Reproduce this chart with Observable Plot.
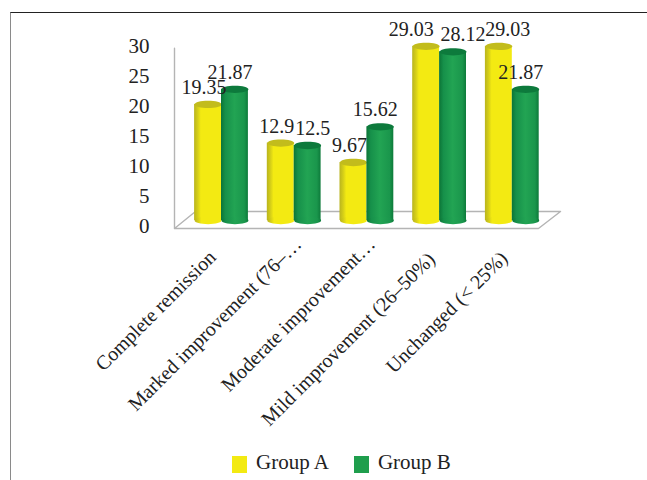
<!DOCTYPE html>
<html>
<head>
<meta charset="utf-8">
<script src="https://cdn.jsdelivr.net/npm/d3@7"></script>
<script src="https://cdn.jsdelivr.net/npm/@observablehq/plot@0.6"></script>
<style>
  html, body { margin: 0; padding: 0; background: #fff; overflow: hidden; }
  body { width: 647px; height: 480px; position: relative; font-family: "Liberation Serif", serif; color: #222; }
  #frame { position: absolute; left: 10px; top: 12px; right: 0; bottom: 0; border-top: 1.5px solid #222; border-left: 1.5px solid #8a8a8a; }
  #chart { position: absolute; left: 0; top: 0; }
  #chart svg { background: transparent; display: block; }
  #legend { position: absolute; top: 447px; left: 232px; display: flex; align-items: center; font-size: 21px; height: 30px; }
  #legend i { display: inline-block; width: 15px; height: 17px; margin-right: 9px; margin-top: 5px; }
  #legend span { margin-right: 25px; }
</style>
</head>
<body>
<div id="frame"></div>
<div id="chart"></div>
<div id="legend"></div>
<script>
const categories = [
  "Complete remission",
  "Marked improvement (76–…",
  "Moderate improvement…",
  "Mild improvement (26–50%)",
  "Unchanged (< 25%)"
];
const groupA = [19.35, 12.9, 9.67, 29.03, 29.03];
const groupB = [21.87, 12.5, 15.62, 28.12, 21.87];
const groupALabels = ["19.35", "12.9", "9.67", "29.03", "29.03"];
const groupBLabels = ["21.87", "12.5", "15.62", "28.12", "21.87"];
const seriesNames = ["Group A", "Group B"];
const yTicks = [0, 5, 10, 15, 20, 25, 30];

const yellow = "#f3ea12", green = "#1f9e4d";
const half = 0.37;
const font = "Liberation Serif";

const rowsA = groupA.map((v, i) => ({i, v, x1: i - half, x2: i, xc: i - half / 2, label: groupALabels[i]}));
const rowsB = groupB.map((v, i) => ({i, v, x1: i, x2: i + half, xc: i + half / 2, label: groupBLabels[i]}));

// flat ellipse used for the caps of the cylinders
const cap = {
  draw(c, size) {
    const rx = Math.sqrt(size / Math.PI), ry = rx * 0.27, k = 0.5523;
    c.moveTo(-rx, 0);
    c.bezierCurveTo(-rx, -ry * k, -rx * k, -ry, 0, -ry);
    c.bezierCurveTo(rx * k, -ry, rx, -ry * k, rx, 0);
    c.bezierCurveTo(rx, ry * k, rx * k, ry, 0, ry);
    c.bezierCurveTo(-rx * k, ry, -rx, ry * k, -rx, 0);
    c.closePath();
  }
};

const defs = () => {
  const d = d3.create("svg:defs");
  const grad = (id, stops) => {
    const g = d.append("linearGradient").attr("id", id).attr("x1", 0).attr("x2", 1).attr("y1", 0).attr("y2", 0);
    stops.forEach(([o, c]) => g.append("stop").attr("offset", o).attr("stop-color", c));
  };
  grad("cylA", [[0, "#b9b41e"], [0.14, "#d6cf18"], [0.25, yellow], [1, yellow]]);
  grad("cylB", [[0, "#0b7436"], [0.16, "#16904a"], [0.5, "#22a453"], [0.86, "#1a964c"], [1, "#0d7a3a"]]);
  return d.node();
};

const cylinders = (rows, grad, top) => [
  Plot.rectY(rows, {x1: "x1", x2: "x2", y1: 0, y2: "v", fill: grad, inset: 0}),
  Plot.dot(rows, {x: "xc", y: 0, r: 13.5, symbol: cap, fill: grad, stroke: "none"}),
  Plot.dot(rows, {x: "xc", y: "v", r: 13.5, symbol: cap, fill: top, stroke: "none"})
];

// each value label sits slightly off its bar in the reference
const nudgeA = [-4, -4, -4, -15, 9];
const nudgeB = [-5, 5, -5, 10, -5];
const valueLabels = (rows, nudge) => rows.map((r, k) =>
  Plot.text([r], {x: "xc", y: "v", text: "label", dx: nudge[k], dy: -17, fontSize: 20, fontFamily: font, fill: "#222"}));

// tick labels end just under each group, at two different heights
const labelDx = [-9, 4, 5, -8, -8];
const labelDy = [1, -12, -12, 3, 2];
const categoryLabels = categories.map((c, i) =>
  Plot.text([c], {x: [i], y: [-5.4], text: d => d, rotate: -45, textAnchor: "end", lineAnchor: "middle",
    dx: labelDx[i], dy: labelDy[i], fontSize: 20, fontFamily: font, fill: "#222"}));

const gray = "#b4b4b4";
const plot = Plot.plot({
  width: 647,
  height: 445,
  marginLeft: 174,
  marginRight: 87,
  marginTop: 10,
  marginBottom: 0,
  x: {domain: [-0.6465, 4.663], axis: null},
  y: {domain: [-37.5, 35], axis: null},
  style: {background: "transparent", overflow: "visible"},
  marks: [
    defs,
    Plot.line([[-0.6465, 28.7], [-0.6465, -1.33], [4.36, -1.33], [4.663, 1.5], [-0.358, 1.5], [-0.6465, -1.33]],
      {x: d => d[0], y: d => d[1], stroke: gray, strokeWidth: 1.4}),
    Plot.axisY({ticks: yTicks, tickSize: 0, tickPadding: 25, dy: 6, fontSize: 21, fontFamily: font, label: null, fill: "#222"}),
    ...cylinders(rowsA, "url(#cylA)", "#c2bc1c"),
    ...cylinders(rowsB, "url(#cylB)", "#0d7a3c"),
    ...valueLabels(rowsA, nudgeA),
    ...valueLabels(rowsB, nudgeB),
    ...categoryLabels
  ]
});
document.getElementById("chart").appendChild(plot);

const legend = document.getElementById("legend");
[yellow, green].forEach((col, i) => {
  const sw = document.createElement("i");
  sw.style.background = col;
  const t = document.createElement("span");
  t.textContent = seriesNames[i];
  legend.append(sw, t);
});
</script>
</body>
</html>
